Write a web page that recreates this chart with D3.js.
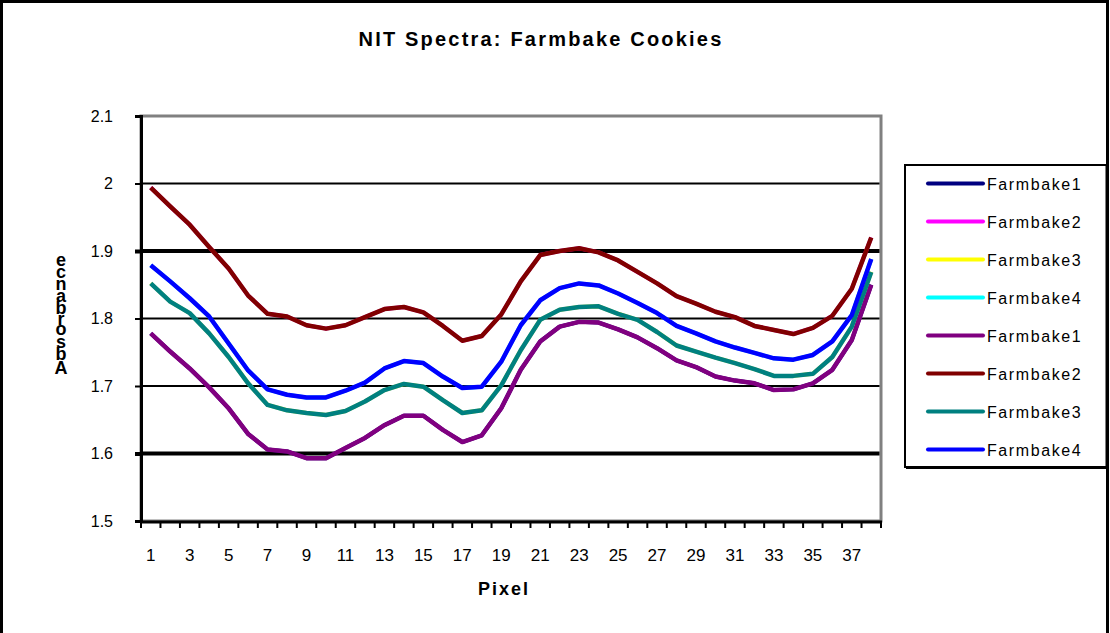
<!DOCTYPE html>
<html>
<head>
<meta charset="utf-8">
<script src="https://cdn.jsdelivr.net/npm/d3@7"></script>
<style>
  html, body { margin: 0; padding: 0; background: #fff; }
  svg { display: block; }
  text { font-family: "Liberation Sans", Arial, sans-serif; fill: #000; }
</style>
</head>
<body>
<svg id="chart" width="1110" height="633"></svg>
<script>
// ---- data ----
const pixels = d3.range(1, 39);               // categories 1..38
const xTickLabels = d3.range(1, 38, 2);        // 1,3,...,37
const yTicks = [1.5, 1.6, 1.7, 1.8, 1.9, 2.0, 2.1];

const farmbake1 = [1.778,1.751,1.726,1.698,1.667,1.629,1.606,1.603,1.593,1.593,1.608,1.623,1.642,1.656,1.656,1.635,1.617,1.627,1.667,1.724,1.766,1.788,1.795,1.794,1.784,1.772,1.756,1.738,1.728,1.714,1.708,1.704,1.694,1.695,1.704,1.724,1.768,1.850];
const farmbake2 = [1.994,1.966,1.939,1.906,1.874,1.834,1.807,1.803,1.790,1.785,1.790,1.802,1.814,1.817,1.809,1.789,1.767,1.774,1.806,1.855,1.894,1.900,1.904,1.898,1.886,1.869,1.852,1.833,1.822,1.810,1.802,1.789,1.783,1.777,1.786,1.804,1.844,1.920];
const farmbake3 = [1.852,1.825,1.808,1.778,1.743,1.704,1.672,1.664,1.660,1.657,1.663,1.677,1.694,1.703,1.699,1.679,1.660,1.664,1.701,1.753,1.798,1.813,1.817,1.818,1.807,1.798,1.780,1.760,1.751,1.742,1.734,1.725,1.715,1.715,1.718,1.743,1.788,1.869];
const farmbake4 = [1.879,1.855,1.830,1.803,1.763,1.723,1.695,1.687,1.683,1.683,1.693,1.705,1.726,1.737,1.734,1.714,1.697,1.699,1.736,1.790,1.827,1.845,1.852,1.849,1.837,1.823,1.808,1.789,1.778,1.766,1.757,1.749,1.741,1.739,1.746,1.766,1.805,1.888];

const seriesNames = ["Farmbake1","Farmbake2","Farmbake3","Farmbake4","Farmbake1","Farmbake2","Farmbake3","Farmbake4"];
const seriesValues = [farmbake1, farmbake2, farmbake3, farmbake4, farmbake1, farmbake2, farmbake3, farmbake4];
const seriesColors = ["#000080","#FF00FF","#FFFF00","#00FFFF","#800080","#800000","#008080","#0000FF"];

const title = "NIT Spectra: Farmbake Cookies";
const xTitle = "Pixel";
const yTitle = "Absorbance";

// ---- layout ----
const svg = d3.select("#chart");
const plot = {left: 141, right: 881, top: 116, bottom: 521};

// outer chart border
svg.append("rect").attr("x", 1.5).attr("y", 1.5).attr("width", 1106).attr("height", 650)
  .attr("fill", "#fff").attr("stroke", "#000").attr("stroke-width", 3);

const x = d3.scaleBand().domain(pixels).range([plot.left, plot.right]).padding(0);
const y = d3.scaleLinear().domain([1.5, 2.1]).range([plot.bottom, plot.top]);
const xc = d => x(d) + x.bandwidth() / 2;

// plot area border (gray)
svg.append("rect").attr("x", plot.left).attr("y", plot.top)
  .attr("width", plot.right - plot.left).attr("height", plot.bottom - plot.top)
  .attr("fill", "#fff").attr("stroke", "#808080").attr("stroke-width", 3);

// gridlines
svg.append("g").selectAll("line").data(yTicks.filter(v => v > 1.5 && v < 2.1)).join("line")
  .attr("x1", plot.left).attr("x2", plot.right - 1.5)
  .attr("y1", d => y(d)).attr("y2", d => y(d))
  .attr("stroke", "#000")
  .attr("stroke-width", d => (Math.abs(d - 1.9) < 1e-9 || Math.abs(d - 1.6) < 1e-9) ? 4 : 2);

// y axis
const yAxis = d3.axisLeft(y).tickValues(yTicks).tickSize(6).tickPadding(22)
  .tickFormat(d => d3.format("~g")(+d.toFixed(1)));
const gy = svg.append("g").attr("transform", `translate(${plot.left},0)`).call(yAxis);
gy.select(".domain").attr("stroke", "#000").attr("stroke-width", 3);
gy.selectAll(".tick line").attr("stroke", "#000")
  .attr("stroke-width", d => (Math.abs(d - 1.9) < 1e-9 || Math.abs(d - 1.6) < 1e-9) ? 4 : 2);
gy.selectAll(".tick text").style("font-size", "16px").style("font-family", "Liberation Sans, Arial, sans-serif");

// x axis line + ticks between categories
const gx = svg.append("g");
gx.append("line").attr("x1", plot.left - 1).attr("x2", plot.right + 1)
  .attr("y1", plot.bottom + 1).attr("y2", plot.bottom + 1)
  .attr("stroke", "#000").attr("stroke-width", 3);
const boundaries = pixels.map(p => x(p)).concat([plot.right]);
gx.selectAll("line.tk").data(boundaries).join("line").attr("class", "tk")
  .attr("x1", d => d).attr("x2", d => d)
  .attr("y1", plot.bottom).attr("y2", plot.bottom + 7)
  .attr("stroke", "#000").attr("stroke-width", 2);
gx.selectAll("text").data(xTickLabels).join("text")
  .attr("x", d => xc(d)).attr("y", 561)
  .attr("text-anchor", "middle").style("font-size", "17px")
  .text(d => d);

// series lines: first four underneath, last four on top
const line = d3.line().x((v, i) => xc(pixels[i])).y(v => y(v)).curve(d3.curveLinear);
const gl = svg.append("g");
seriesValues.forEach((vals, k) => {
  gl.append("path").datum(vals)
    .attr("d", line).attr("fill", "none")
    .attr("stroke", seriesColors[k])
    .attr("stroke-width", k < 4 ? 4 : 4.5)
    .attr("stroke-linejoin", "round")
    .attr("stroke-linecap", "butt");
});

// title
svg.append("text").attr("x", 541).attr("y", 46).attr("text-anchor", "middle")
  .style("font-size", "20px").style("font-weight", "bold").style("letter-spacing", "2.2px")
  .text(title);

// x title
svg.append("text").attr("x", 504).attr("y", 595).attr("text-anchor", "middle")
  .style("font-size", "18px").style("font-weight", "bold").style("letter-spacing", "2px")
  .text(xTitle);

// y title: upright glyphs stacked bottom-to-top (as in the source)
const yt = svg.append("text").style("font-size", "18px").style("font-weight", "bold")
  .attr("text-anchor", "middle");
const chars = yTitle.split("");
const tmp = svg.append("text").style("font-size", "18px").style("font-weight", "bold");
const widths = chars.map(c => { tmp.text(c); return tmp.node().getComputedTextLength(); });
tmp.remove();
let acc = 0;
const centers = widths.map(w => { const c = acc + w / 2; acc += w; return c; });
const c0 = centers[0], c1 = centers[centers.length - 1];
const yBottom = 368, yTop = 260;
chars.forEach((c, i) => {
  const yy = yBottom - (centers[i] - c0) / (c1 - c0) * (yBottom - yTop);
  yt.append("tspan").attr("x", 61).attr("y", yy).attr("dy", "0.33em").text(c);
});

// legend
const lg = svg.append("g");
lg.append("rect").attr("x", 905).attr("y", 165).attr("width", 202).attr("height", 302)
  .attr("fill", "#fff").attr("stroke", "#000").attr("stroke-width", 2);
lg.append("line").attr("x1", 1107).attr("x2", 1107).attr("y1", 166).attr("y2", 469)
  .attr("stroke", "#000").attr("stroke-width", 3);
lg.append("line").attr("x1", 906).attr("x2", 1108).attr("y1", 467.5).attr("y2", 467.5)
  .attr("stroke", "#000").attr("stroke-width", 3);
seriesNames.forEach((name, k) => {
  const cy = 183.5 + k * 38;
  lg.append("line").attr("x1", 928).attr("x2", 983).attr("y1", cy).attr("y2", cy)
    .attr("stroke", seriesColors[k]).attr("stroke-width", 4).attr("stroke-linecap", "round");
  lg.append("text").attr("x", 987).attr("y", cy + 6)
    .style("font-size", "16px").style("letter-spacing", "1.6px").text(name);
});
</script>
</body>
</html>
